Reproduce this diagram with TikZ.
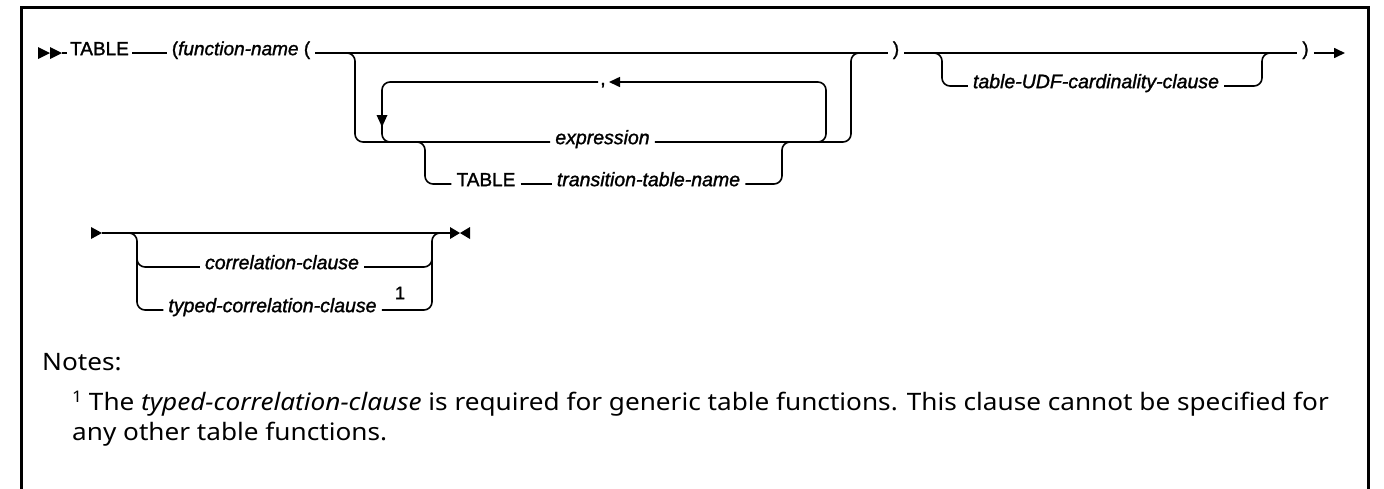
\documentclass[tikz,border=0pt]{standalone}
\usepackage{fontspec}
\newfontfamily\dfont{Liberation Sans}[FakeBold=1.4]
\newfontfamily\nfont{Noto Sans}[FakeStretch=1.09]
\usetikzlibrary{arrows.meta}
\begin{document}
\begin{tikzpicture}[x=1pt,y=-1pt,
  rail/.style={line width=1.6pt, rounded corners=8pt},
  kw/.style={font=\dfont\fontsize{19}{21}\selectfont, inner xsep=5pt, inner ysep=0pt, anchor=mid},
  var/.style={kw, font=\dfont\itshape\fontsize{19.5}{21}\selectfont},
  notetext/.style={font=\nfont\fontsize{24}{28}\selectfont, inner sep=0pt, anchor=base west},
  tip/.style={-{Triangle[length=11pt,width=10pt]}},
  frame/.style={line width=3pt}
]
\useasboundingbox (0,0) rectangle (1384,488);
% frame
\draw[frame] (21.3,492) -- (21.3,7.5) -- (1368.7,7.5) -- (1368.7,492);

% ---------- row 1 ----------
\coordinate (s1) at (62,53);
\fill (38,47) -- (50,53) -- (38,59) -- cycle;
\fill (50,47) -- (62,53) -- (50,59) -- cycle;
\node[kw, inner xsep=3pt] (t1) at (99.5,53) {TABLE};
\draw[rail] (s1) -- (t1.mid west);
\node[kw] (fn) at (241,53) {(\textit{function-name} (};
\draw[rail] (t1.mid east) -- (fn.mid west);
\node[kw] (rp1) at (896,53) {)};
\draw[rail] (fn.mid east) -- (rp1.mid west);
\node[kw] (rp2) at (1305.5,53) {)};
\draw[rail] (rp1.mid east) -- (rp2.mid west);
\coordinate (e1) at (1345,53);
\draw[rail,tip] (rp2.mid east) -- (e1);

% parameters group
\node[var] (expr) at (602.5,142) {expression};
\node[kw] (t2) at (486,184) {TABLE};
\node[var] (ttn) at (648.5,184) {transition-table-name};
\coordinate (ja) at (343,53);
\coordinate (jb) at (863,53);
\draw[rail] (ja) -- (355,53) -- (355,142) -- (expr.mid west);
\draw[rail] (expr.mid east) -- (851,142) -- (851,53) -- (jb);
% repeat loop
\node[kw, anchor=base] (comma) at (603,85) {,};
\coordinate (lb) at (410,142);
\coordinate (rb) at (800,142);
\draw[rail] (rb) -- (826,142) -- (826,82) -- (622,82);
\draw[rail,tip] (622,82) -- (609,82);
\draw[rail] (598,82) -- (382,82) -- (382,142) -- (lb);
\fill (376.5,115) -- (387.5,115) -- (382,127) -- cycle;
% TABLE transition-table-name branch
\draw[rail] (413,142) -- (425,142) -- (425,184) -- (t2.mid west);
\draw[rail] (t2.mid east) -- (ttn.mid west);
\draw[rail] (ttn.mid east) -- (782,184) -- (782,142) -- (795,142);

% cardinality clause
\node[var] (udf) at (1096,86) {table-UDF-cardinality-clause};
\draw[rail] (930,53) -- (942,53) -- (942,86) -- (udf.mid west);
\draw[rail] (udf.mid east) -- (1262,86) -- (1262,53) -- (1275,53);

% ---------- row 2 ----------
\coordinate (s2) at (102,233);
\fill (91,227) -- (102,233) -- (91,239) -- cycle;
\coordinate (e2) at (450,233);
\draw[rail] (s2) -- (e2);
\fill (450,227) -- (460,233) -- (450,239) -- cycle;
\fill (470,227) -- (460,233) -- (470,239) -- cycle;
\node[var] (corr) at (282,267) {correlation-clause};
\node[var] (typed) at (272.5,310) {typed-correlation-clause};
\node[font=\dfont\fontsize{18}{20}\selectfont, inner sep=0pt, anchor=mid] (fn1) at (400,297) {1};
\draw[rail] (125,233) -- (137,233) -- (137,267) -- (corr.mid west);
\draw[rail] (137,250) -- (137,310) -- (typed.mid west);
\draw[rail] (corr.mid east) -- (432,267) -- (432,233) -- (444,233);
\draw[rail] (typed.mid east) -- (432,310) -- (432,250);

% ---------- notes ----------
\node[notetext] (notes) at (42,370) {Notes:};
\node[notetext] (n1) at (72,410) {{\fontsize{16}{18}\selectfont\raisebox{8pt}{1}} The \textit{typed-correlation-clause} is required for generic table functions. This clause cannot be specified for};
\node[notetext] (n2) at (72,440) {any other table functions.};
\end{tikzpicture}
\end{document}
